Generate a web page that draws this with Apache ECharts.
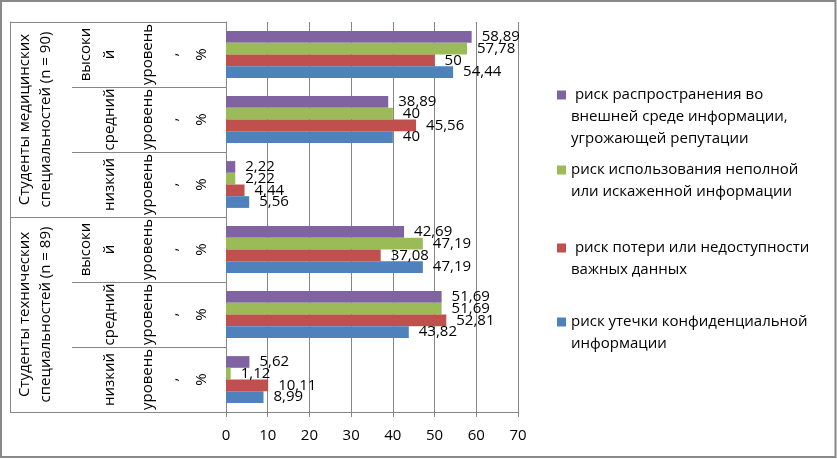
<!DOCTYPE html>
<html>
<head>
<meta charset="utf-8">
<script src="https://cdn.jsdelivr.net/npm/echarts@6/dist/echarts.min.js"></script>
<style>
html,body{margin:0;padding:0;background:#fff;}
#chart{width:837px;height:459px;}
</style>
</head>
<body>
<div id="chart"></div>
<script>
// Categories, bottom to top
const categories = [
  'tech-low', 'tech-mid', 'tech-high',
  'med-low', 'med-mid', 'med-high'
];
const groupLabels = [
  'Студенты технических\nспециальностей (n = 89)',
  'Студенты медицинских\nспециальностей (n = 90)'
];
const levelWords = ['низкий', 'средний', 'высоки\nй', 'низкий', 'средний', 'высоки\nй'];
const levelUnit = ['уровень', 'уровень', 'уровень', 'уровень', 'уровень', 'уровень'];
const commaLabels = [',', ',', ',', ',', ',', ','];
const pctLabels = ['%', '%', '%', '%', '%', '%'];
const xTicks = [0, 10, 20, 30, 40, 50, 60, 70];

const seriesNames = [
  ' риск распространения во\nвнешней среде информации,\nугрожающей репутации',
  'риск использования неполной\nили искаженной информации',
  ' риск потери или недоступности\nважных данных',
  'риск утечки конфиденциальной\nинформации'
];
// values per category (bottom to top)
const reputation = [5.62, 51.69, 42.69, 2.22, 38.89, 58.89];
const incomplete = [1.12, 51.69, 47.19, 2.22, 40, 57.78];
const dataLoss = [10.11, 52.81, 37.08, 4.44, 45.56, 50];
const leak = [8.99, 43.82, 47.19, 5.56, 40, 54.44];
const seriesValues = [reputation, incomplete, dataLoss, leak];
const colors = ['#8064A2', '#9BBB59', '#C0504D', '#4F81BD'];

const FONT = '"Open Sans", "Liberation Sans", Arial, sans-serif';
const FS = 15;
const GRAY = '#868686';

const chart = echarts.init(document.getElementById('chart'));

function labelAxis(data, margin, lh, extra) {
  return Object.assign({
    type: 'category',
    data: data,
    position: 'left',
    gridIndex: 0,
    axisLine: { show: false },
    axisTick: { show: false },
    splitLine: { show: false },
    axisLabel: {
      rotate: 90,
      margin: margin,
      interval: 0,
      fontFamily: FONT,
      fontSize: FS,
      lineHeight: lh,
      color: '#000'
    }
  }, extra || {});
}

const LH = 21.7;
const legendIconCenters = [95, 170, 248, 322];
const legendLines = seriesNames.map(n => n.split('\n').length);

const option = {
  animation: false,
  backgroundColor: '#fff',
  graphic: [{
    type: 'rect',
    shape: { x: 1, y: 1, width: 834.5, height: 456 },
    style: { fill: 'none', stroke: '#888', lineWidth: 2 },
    silent: true
  }],
  grid: { left: 226, right: 319, top: 22, bottom: 47, containLabel: false },
  legend: seriesNames.map((name, i) => ({
    data: [name],
    orient: 'vertical',
    left: 557,
    top: legendIconCenters[i] - (2 * legendLines[i] - 1) * LH / 2,
    padding: 0,
    icon: 'rect',
    itemWidth: 9,
    itemHeight: 9,
    itemGap: 6,
    selectedMode: false,
    formatter: n => '\n'.repeat(legendLines[i] - 1) + n,
    textStyle: {
      fontFamily: FONT,
      fontSize: FS,
      color: '#000',
      lineHeight: LH
    }
  })),
  xAxis: {
    type: 'value',
    min: 0,
    max: 70,
    interval: 10,
    axisLine: { show: true, lineStyle: { color: GRAY, width: 1 } },
    axisTick: { show: true, length: 5, lineStyle: { color: GRAY } },
    splitLine: { show: true, lineStyle: { color: GRAY, width: 1 } },
    axisLabel: {
      fontFamily: FONT, fontSize: FS, color: '#000', margin: 16,
      formatter: v => String(xTicks[xTicks.indexOf(v)])
    }
  },
  yAxis: [
    // main axis for bars, shows "%"
    labelAxis(pctLabels, 16, 17, {
      axisLine: { show: true, lineStyle: { color: GRAY } },
      axisTick: { show: true, length: 154, lineStyle: { color: GRAY } }
    }),
    labelAxis(commaLabels, 45, 17),
    labelAxis(levelUnit, 70, 17),
    labelAxis(levelWords, 104, 24),
    labelAxis(groupLabels, 170, 21, {
      axisTick: { show: true, length: 216, lineStyle: { color: GRAY } }
    }),
    labelAxis(groupLabels, 0, 16, {
      offset: 216,
      axisLine: { show: true, lineStyle: { color: GRAY } },
      axisLabel: { show: false }
    })
  ],
  series: seriesNames.map((name, i) => ({
    name: name,
    type: 'bar',
    xAxisIndex: 0,
    yAxisIndex: 0,
    data: seriesValues[i],
    barGap: '0%',
    barCategoryGap: '28%',
    itemStyle: { color: colors[i] },
    label: {
      show: true,
      position: 'right',
      distance: 10,
      fontFamily: FONT,
      fontSize: FS,
      color: '#000',
      formatter: p => String(p.value).replace('.', ',')
    }
  }))
};
chart.setOption(option);
</script>
</body>
</html>
